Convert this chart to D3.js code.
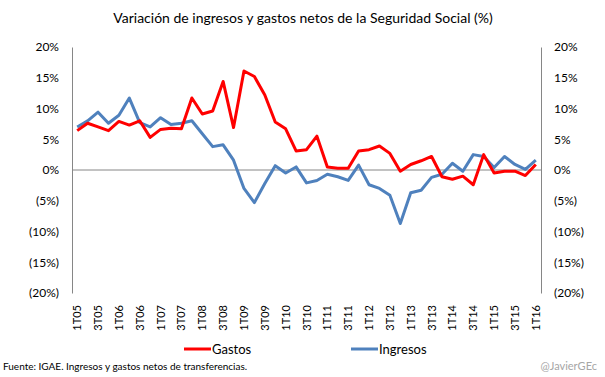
<!DOCTYPE html>
<html>
<head>
<meta charset="utf-8">
<script src="https://cdn.jsdelivr.net/npm/d3@7"></script>
<style>
  body { margin: 0; background: #fff; }
  svg text { font-family: Lato, "Open Sans", sans-serif; fill: #000; }
</style>
</head>
<body>
<div id="chart"></div>
<script>
// quarters 1T05 .. 1T16
const quarters = [];
for (let y = 5; y <= 16; y++) {
    for (let q = 1; q <= 4; q++) {
        if (y === 16 && q > 1) break;
        quarters.push(q + "T" + String(y).padStart(2, "0"));
    }
}

const gastos = [6.4, 7.6, 7.0, 6.4, 7.9, 7.3, 8.0, 5.3, 6.6, 6.8, 6.7, 11.7, 9.1, 9.6, 14.4, 6.9,
    16.1, 15.2, 12.2, 7.8, 6.7, 3.1, 3.3, 5.5, 0.5, 0.3, 0.3, 3.1, 3.3, 3.9, 2.7,
    -0.2, 0.9, 1.5, 2.2, -1.1, -1.5, -1.0, -2.4, 2.5, -0.5, -0.2, -0.2, -0.9, 0.9];

const ingresos = [7.0, 8.0, 9.4, 7.6, 8.9, 11.7, 7.7, 7.0, 8.5, 7.4, 7.6, 8.0, 5.9, 3.8, 4.1, 1.6,
    -3.0, -5.3, -2.2, 0.7, -0.5, 0.5, -2.1, -1.7, -0.7, -1.1, -1.7, 0.8, -2.4, -3.0, -4.1,
    -8.7, -3.7, -3.3, -1.2, -0.7, 1.1, -0.2, 2.5, 2.2, 0.4, 2.2, 0.9, 0.1, 1.6];

const yTicks = [-20, -15, -10, -5, 0, 5, 10, 15, 20];

const width = 605, height = 377;
const margin = { top: 47, right: 64, bottom: 84, left: 72 };

const svg = d3.select("#chart").append("svg")
    .attr("width", width)
    .attr("height", height);

const x = d3.scaleBand()
    .domain(quarters)
    .range([margin.left, width - margin.right]);

const y = d3.scaleLinear()
    .domain([-20, 20])
    .range([height - margin.bottom, margin.top]);

const fmt = d => d < 0 ? "(" + Math.abs(d) + "%)" : d + "%";

// title
svg.append("text")
    .attr("x", 303)
    .attr("y", 23)
    .attr("text-anchor", "middle")
    .style("font-size", "14px")
    .text("Variación de ingresos y gastos netos de la Seguridad Social (%)");

// y axes
const axisColor = "#868686";
const yLeft = d3.axisLeft(y).tickValues(yTicks).tickFormat(fmt).tickSize(0).tickPadding(13);
const yRight = d3.axisRight(y).tickValues(yTicks).tickFormat(fmt).tickSize(0).tickPadding(13);

const gl = svg.append("g")
    .attr("transform", `translate(${margin.left},0)`)
    .call(yLeft);
const gr = svg.append("g")
    .attr("transform", `translate(${width - margin.right},0)`)
    .call(yRight);

[gl, gr].forEach(g => {
    g.select(".domain").attr("stroke", axisColor);
    g.selectAll("text").style("font-size", "12px").style("font-family", "Lato, 'Open Sans', sans-serif");
});

// zero line
svg.append("line")
    .attr("x1", margin.left)
    .attr("x2", width - margin.right)
    .attr("y1", y(0))
    .attr("y2", y(0))
    .attr("stroke", axisColor)
    .attr("stroke-width", 1);

// x labels (every other quarter)
svg.append("g")
    .selectAll("text")
    .data(quarters.filter((d, i) => i % 2 === 0))
    .join("text")
    .attr("transform", d => `translate(${x(d) + x.bandwidth() / 2 + 4},${height - margin.bottom + 12}) rotate(-90)`)
    .attr("text-anchor", "end")
    .style("font-size", "11px")
    .text(d => d);

// lines
const line = d3.line()
    .x((d, i) => x(quarters[i]) + x.bandwidth() / 2)
    .y(d => y(d));

svg.append("path")
    .datum(ingresos)
    .attr("fill", "none")
    .attr("stroke", "#4f81bd")
    .attr("stroke-width", 3)
    .attr("stroke-linejoin", "round")
    .attr("d", line);

svg.append("path")
    .datum(gastos)
    .attr("fill", "none")
    .attr("stroke", "#ff0000")
    .attr("stroke-width", 3)
    .attr("stroke-linejoin", "round")
    .attr("d", line);

// legend
const legend = [
    { name: "Gastos", color: "#ff0000", x: 184 },
    { name: "Ingresos", color: "#4f81bd", x: 351 }
];
const lg = svg.append("g").selectAll("g")
    .data(legend)
    .join("g")
    .attr("transform", d => `translate(${d.x},349)`);
lg.append("line")
    .attr("x1", 0).attr("x2", 27)
    .attr("stroke", d => d.color)
    .attr("stroke-width", 3);
lg.append("text")
    .attr("x", 28)
    .attr("y", 5)
    .style("font-size", "13px")
    .text(d => d.name);

// footer
svg.append("text")
    .attr("x", 3)
    .attr("y", 370)
    .style("font-size", "10px")
    .text("Fuente: IGAE. Ingresos y gastos netos de transferencias.");

svg.append("text")
    .attr("x", 597)
    .attr("y", 370)
    .attr("text-anchor", "end")
    .style("font-size", "11px")
    .style("fill", "#a6a6a6")
    .text("@JavierGEc");
</script>
</body>
</html>
